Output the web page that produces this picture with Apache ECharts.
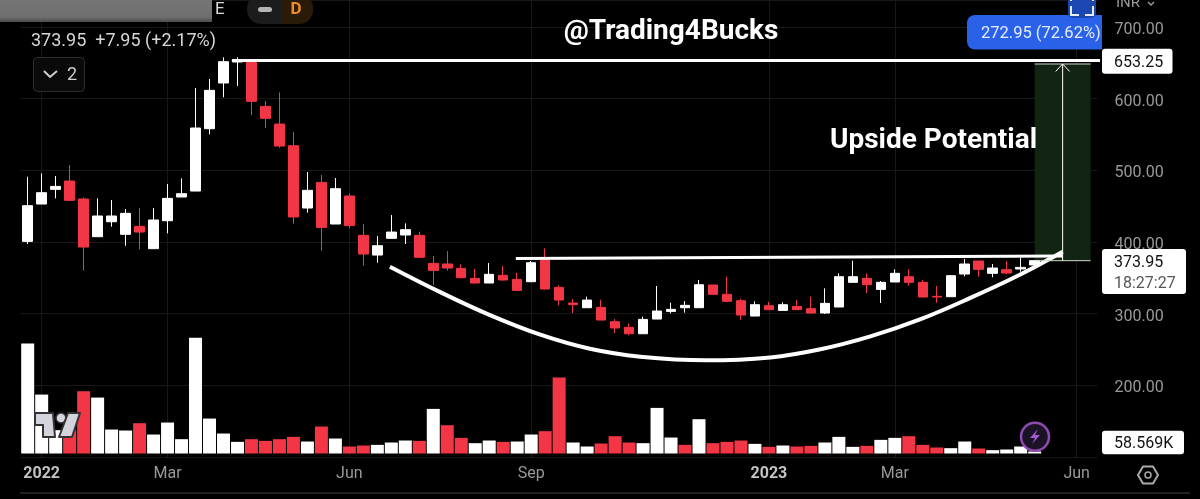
<!DOCTYPE html>
<html><head><meta charset="utf-8">
<script src="https://cdn.jsdelivr.net/npm/echarts@6/dist/echarts.min.js"></script>
<style>html,body{margin:0;padding:0;background:#000}#c{width:1200px;height:499px}</style></head>
<body><div id="c"></div>
<script>
const categories = ['','2022','','','','','','','','','Mar','','','','','','','','','','','','','Jun','','','','','','','','','','','','','Sep','','','','','','','','','','','','','','','','','2023','','','','','','','','','Mar','','','','','','','','','','','','','Jun',''];
const opens  = [400.9,453,473.5,485.1,460,407.4,428.3,410.7,421.8,390.7,429.7,462.8,471.1,558.1,621.9,651.2,652.1,589.3,564.6,534.4,447.4,483.2,425.1,464.2,409.3,381.8,405.1,409.8,409.3,370.2,369.3,363.2,349.3,342.8,353.5,347.9,344.6,376.3,336.7,314.9,308.3,308.8,288.8,280.9,272,292.5,303.2,308.3,308.3,340,327,318.1,296.7,311.1,304.6,310.2,307,300.9,309.3,343.7,349.3,333.9,344.2,351.6,343.7,324.2,323.7,355.3,373.5,356.3,361.4,362.3,368];
const closes = [450.7,468.8,477.6,458.1,393,436.3,436.3,440,413.9,430.7,460.9,467.4,559.1,611.6,651.6,652.6,596.3,572.6,533.9,434.9,472.1,420.4,474.4,422.8,383.2,394.8,413.9,417.2,378.6,360.4,363.7,350.2,342.8,354.9,347,332.5,371.1,334.4,319,312.5,319,291.1,280,272,292,303.7,306,311.6,340.4,327,317.2,298.1,312.5,305.6,312.5,305.6,300.9,314.4,351.6,351.6,340.4,343.7,356.3,343.7,323.2,323.2,353,369.3,361.9,363.7,356.7,364.6,373.95];
const lows   = [397.2,453,460.9,457.2,360,407.4,421.4,394.8,389.7,390.7,412.1,462.8,471.1,550.2,601.9,617.7,577.2,559.1,531.6,425.5,440.9,387.9,425.1,419,366.9,371.1,405.1,397.2,377.7,340,360,349.3,341.8,342.8,346,332,344.6,333.5,311.6,300.9,308.3,291.1,273,269.7,272,292.5,300.4,301.4,308.3,326,316.2,291.6,296.7,305.1,304.6,305.1,300.4,299.5,309.3,343.7,328.8,314.9,344.2,339,322.8,315.3,323.7,352.1,351.6,350.7,354.9,358.6,368];
const highs  = [491.1,495.8,492.1,507.4,462.3,460.9,458.6,446,447.4,447.4,480.9,488.8,614.9,627.4,657.7,657.7,652.1,596.7,608.8,553.5,497.7,493.5,489.3,467.9,425.1,408.3,437.6,426,414.4,380.4,387.4,368.8,362.3,370.6,366.5,357.2,373.5,391.1,339.5,320.4,323.7,319.5,292.5,286.5,295.8,338.6,315.3,317.6,347,340,351.6,320.9,317.2,316.7,315.8,319,323.7,335.3,356.3,373.9,356.3,345.6,361.9,361.9,347,338.6,353.9,376.3,373.5,369.3,373.5,378.1,375];
const volumes = [3190,1711,677,677,1808,1624,696,667,880,551,899,416,3364,1015,580,338,416,367,416,483,348,783,435,203,232,251,319,377,367,1295,822,454,300,377,338,348,551,648,2204,319,203,290,503,319,300,1324,464,251,996,300,338,377,280,193,232,203,222,319,483,193,222,396,454,503,251,174,155,348,145,97,116,203,58.569];
const volumeDown = [3,4,8,16,17,18,19,21,23,24,28,30,31,34,37,38,41,42,43,47,49,50,51,53,55,56,60,63,64,65,68];
const priceTicks = [200,300,400,500,600,700];
const peakLine = [[14.6,653.25],[76.7,653.25]];
const rimLine = [[34.9,377],[74,380.5]];
const cupCurve = [[25.9,365.5],[29.5,330],[33.05,298],[36.6,271],[40.2,251],[43.8,240],[48.5,235],[53.1,239],[56.6,250],[60.2,268],[63.8,292],[67.4,322],[70.9,354],[74,386.5]];
const targetBox = {x0:72,x1:76,top:648.4,bottom:373.95};
const arrowLine = [[74,373.95],[74,648.4]];
const arrowHead = [[73.5,638],[74,648.4],[74.5,638]];
const RED='#f23645', WHITE='#ffffff';

const candleData = opens.map((o,i)=>[o,closes[i],lows[i],highs[i]]);
const volData = volumes.map((v,i)=>({value:v,itemStyle:{color:volumeDown.includes(i)?RED:WHITE}}));
const lineSeries=(data,w,extra)=>Object.assign({type:'line',xAxisIndex:1,yAxisIndex:0,data,symbol:'none',silent:true,clip:false,lineStyle:{color:'#fff',width:w},z:5},extra||{});
const txt=(x,y,t,size,color,weight,align)=>({type:'text',x,y,z:50,style:{text:t,font:(weight||'normal')+' '+size+'px Roboto',fill:color,textAlign:align||'left',textVerticalAlign:'middle'}});
const rect=(x,y,w,h,fill,r,stroke)=>({type:'rect',z:40,shape:{x,y,width:w,height:h,r:r||0},style:{fill,stroke:stroke||null,lineWidth:stroke?1:0}});
const poly=(pts,fill,stroke)=>({type:'polygon',z:45,shape:{points:pts},style:{fill,stroke:stroke||null,lineWidth:stroke?2:0,lineJoin:'round'}});
const pline=(pts,stroke,w)=>({type:'polyline',z:46,shape:{points:pts},style:{fill:null,stroke,lineWidth:w}});

const chrome=[
 {type:'rect',z:40,shape:{x:0,y:-2,width:212,height:24},style:{fill:{type:'linear',x:0,y:0,x2:0,y2:1,colorStops:[{offset:0,color:'#777'},{offset:0.8,color:'#6e6e6e'},{offset:1,color:'#4a4a4a'}]}}},
 txt(215,10,'E',17,'#d8d8d8'),
 rect(247,-6,66,30,'#1c1c1c',14),
 {type:'rect',z:41,shape:{x:281,y:-6,width:32,height:30,r:[0,14,14,0]},style:{fill:'#2a1a08'}},
 rect(258,7,14,5,'#b4b4b4',2.5),
 txt(296,10,'D',17,'#f08a24','bold','center'),
 txt(31,41,'373.95  +7.95 (+2.17%)',18,'#d6d6d6'),
 rect(33.5,57.5,51,34,'#0a0a0a',4,'#2e2e2e'),
 pline([[44,71],[50,77],[57,71]],'#cfcfcf',2),
 txt(67,75,'2',18,'#cfcfcf'),
 txt(671,31.5,'@Trading4Bucks',28,'#ffffff','bold','center'),
 txt(830,141,'Upside Potential',28,'#ffffff','bold'),
 txt(1116,3,'INR',15,'#999'),
 pline([[1148,2],[1151,5],[1154,2]],'#999',1.5),
 {type:'rect',z:41,shape:{x:967,y:15,width:135,height:34.5,r:[8,0,0,8]},style:{fill:'#2962e8'}},
 {type:'rect',z:42,shape:{x:1068,y:-4,width:28,height:22,r:[0,0,5,5]},style:{fill:'#1c47b0'}},
 pline([[1071,6],[1071,15],[1079,15]],'#e8ecf8',2),
 pline([[1085,15],[1093,15],[1093,6]],'#e8ecf8',2),
 pline([[1071,-1],[1071,1]],'#e8ecf8',2),
 pline([[1093,-1],[1093,1]],'#e8ecf8',2),
 txt(981,33.5,'272.95 (72.62%)',16.5,'#e6ecff'),
 rect(1102,48.7,70.5,25,'#ffffff',3),
 txt(1114,62.5,'653.25',16,'#111'),
 rect(1102,249,84,45,'#ffffff',3),
 txt(1114,263,'373.95',16,'#111'),
 txt(1114,283.5,'18:27:27',16,'#555'),
 rect(1102,430.7,82,23.5,'#ffffff',3),
 txt(1114,443.5,'58.569K',16,'#111'),
 poly([[35,413],[53,413],[55,437],[43,437],[43,425],[35,425]],'#d4d5dc','#333'),
 {type:'circle',z:45,shape:{cx:61,cy:418,r:5},style:{fill:'#d4d5dc',stroke:'#333',lineWidth:1.5}},
 poly([[68,413],[80,413],[72,437],[59,437]],'#d4d5dc','#333'),
 {type:'circle',z:45,shape:{cx:1035,cy:436.7,r:14},style:{fill:'#1c1226',stroke:'#8e4bb0',lineWidth:2.5}},
 poly([[1038,429],[1030,438],[1035,438],[1032,444],[1040,435],[1035,435]],'#a55bd0'),
 poly([[1138,475],[1143,466.5],[1153,466.5],[1158,475],[1153,483.5],[1143,483.5]],'none','#aaa'),
 {type:'circle',z:45,shape:{cx:1148,cy:475,r:3},style:{fill:'none',stroke:'#aaa',lineWidth:1.5}},
 {type:'rect',z:40,shape:{x:20,y:492.5,width:1170,height:1},style:{fill:'#44444c'}}
];

const chart=echarts.init(document.getElementById('c'),null,{renderer:'canvas'});
chart.setOption({
 animation:false, backgroundColor:'#000',
 grid:[{left:20.7,width:1076.9,top:0,height:457},{left:20.7,width:1076.9,top:329.5,height:124}],
 xAxis:[
  {type:'category',gridIndex:0,data:categories,boundaryGap:true,
   axisLine:{show:false},axisTick:{show:false},
   axisLabel:{interval:0,margin:9,hideOverlap:false,fontFamily:'Roboto',fontSize:16,color:'#999',
     formatter:v=>/^20/.test(v)?'{y|'+v+'}':v,rich:{y:{fontFamily:'Roboto',fontWeight:'bold',fontSize:16,color:'#c4c4c4'}}},
   splitLine:{show:true,alignWithLabel:true,interval:(i,v)=>v!=='',lineStyle:{color:'#181818',width:1}}},
  {type:'value',gridIndex:0,min:-0.5,max:76.5,show:false},
  {type:'category',gridIndex:1,data:categories,show:false}
 ],
 yAxis:[
  {type:'value',gridIndex:0,position:'right',min:100,max:737.7,interval:100,
   axisLine:{show:false},axisTick:{show:false},
   axisLabel:{margin:17,formatter:v=>priceTicks.includes(v)?'{p|'+v.toFixed(2)+'}':'',
     rich:{p:{fontFamily:'Roboto',fontSize:16,color:'#999',padding:[6,0,0,0]}}},
   splitLine:{show:true,lineStyle:{color:'#181818',width:1}}},
  {type:'value',gridIndex:1,min:0,max:3600,show:false,splitLine:{show:false}}
 ],
 series:[
  lineSeries([],1,{name:'target',markArea:{silent:true,itemStyle:{color:'#122412'},data:[[{coord:[targetBox.x0,targetBox.top]},{coord:[targetBox.x1,targetBox.bottom]}]]},z:1}),
  {type:'bar',xAxisIndex:2,yAxisIndex:1,data:volData,barWidth:13,z:2,silent:true},
  {type:'candlestick',xAxisIndex:0,yAxisIndex:0,data:candleData,barWidth:10,z:3,silent:true,
   itemStyle:{color:WHITE,color0:RED,borderColor:WHITE,borderColor0:RED,borderWidth:1}},
  lineSeries(peakLine,3),
  lineSeries(rimLine,3),
  lineSeries(cupCurve,4,{smooth:0.4}),
  lineSeries([[targetBox.x0,targetBox.top],[targetBox.x1,targetBox.top]],1,{lineStyle:{color:'#cfd6cf',width:1}}),
  lineSeries([[targetBox.x0,targetBox.bottom],[targetBox.x1,targetBox.bottom]],1,{lineStyle:{color:'#cfd6cf',width:1}}),
  lineSeries(arrowLine,1),
  lineSeries(arrowHead,1)
 ],
 graphic:chrome
});
</script></body></html>
